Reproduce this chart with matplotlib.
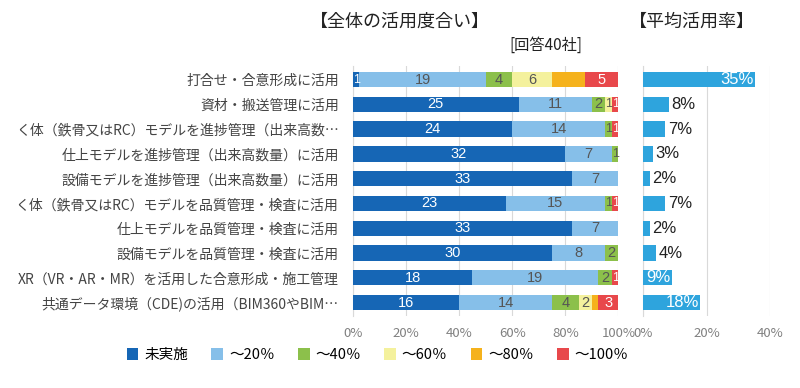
import matplotlib.pyplot as plt
import numpy as np

plt.rcParams['font.family'] = ['Noto Sans CJK JP', 'DejaVu Sans']

categories = [
    "打合せ・合意形成に活用",
    "資材・搬送管理に活用",
    "く体（鉄骨又はRC）モデルを進捗管理（出来高数…",
    "仕上モデルを進捗管理（出来高数量）に活用",
    "設備モデルを進捗管理（出来高数量）に活用",
    "く体（鉄骨又はRC）モデルを品質管理・検査に活用",
    "仕上モデルを品質管理・検査に活用",
    "設備モデルを品質管理・検査に活用",
    "XR（VR・AR・MR）を活用した合意形成・施工管理",
    "共通データ環境（CDE)の活用（BIM360やBIM…",
]
series_names = ["未実施", "～20％", "～40％", "～60％", "～80％", "～100％"]
none_use = [1, 25, 24, 32, 33, 23, 33, 30, 18, 16]
upto20 = [19, 11, 14, 7, 7, 15, 7, 8, 19, 14]
upto40 = [4, 2, 1, 1, 0, 1, 0, 2, 2, 4]
upto60 = [6, 1, 0, 0, 0, 0, 0, 0, 0, 2]
upto80 = [5, 0, 0, 0, 0, 0, 0, 0, 0, 1]
upto100 = [5, 1, 1, 0, 0, 1, 0, 0, 1, 3]
avg_rate = [35, 8, 7, 3, 2, 7, 2, 4, 9, 18]

colors = ["#1666b5", "#86bfe9", "#8cc04b", "#f4f19d", "#f5b21c", "#e8484b"]
text_colors = ["white", "#555555", "#555555", "#555555", "white", "white"]

series = [none_use, upto20, upto40, upto60, upto80, upto100]
total = 40
y = np.arange(len(categories))

fig = plt.figure(figsize=(8, 3.88), dpi=100)
ax = fig.add_axes([0.441, 0.185, 0.332, 0.645])
ax2 = fig.add_axes([0.804, 0.185, 0.159, 0.645])

left = np.zeros(len(categories))
for k, vals in enumerate(series):
    vals = np.array(vals, dtype=float)
    pct = vals / total * 100
    ax.barh(y, pct, left=left, height=0.62, color=colors[k], label=series_names[k], zorder=3)
    for i, v in enumerate(vals):
        if v > 0 and not (k == 4):
            ax.text(left[i] + pct[i] / 2, y[i], str(int(v)), ha="center", va="center",
                    fontsize=10.5 if v > 1 else 9, color=text_colors[k], zorder=4,
                    family=["Liberation Sans", "DejaVu Sans"])
    left += pct

ax.set_xlim(0, 100)
ax.set_ylim(len(categories) - 0.45, -0.55)
ax.set_yticks(y)
ax.set_yticklabels(categories, fontsize=10, color="#444444")
ax.set_xticks(range(0, 101, 20))
ax.set_xticklabels([f"{t}%" for t in range(0, 101, 20)], fontsize=9.5, color="#808080")
ax.xaxis.grid(True, color="#d9d9d9", lw=0.8, zorder=0)
ax.tick_params(length=0, pad=8)
ax.tick_params(axis="y", pad=10)
for s in ["top", "right", "bottom"]:
    ax.spines[s].set_visible(False)
ax.spines["left"].set_color("#d9d9d9")

ax2.barh(y, avg_rate, height=0.62, color="#2ea4dd", zorder=3)
for i, v in enumerate(avg_rate):
    if v >= 9:
        ax2.text(v - 0.3, y[i], f"{v}%", ha="right", va="center", fontsize=12, color="white", zorder=4,
                 family=["Liberation Sans", "DejaVu Sans"])
    else:
        ax2.text(v + 0.8, y[i], f"{v}%", ha="left", va="center", fontsize=12, color="#222222", zorder=4,
                 family=["Liberation Sans", "DejaVu Sans"])
ax2.set_xlim(0, 40)
ax2.set_ylim(len(categories) - 0.45, -0.55)
ax2.set_yticks([])
ax2.set_xticks([0, 20, 40])
ax2.set_xticklabels(["0%", "20%", "40%"], fontsize=9.5, color="#808080")
ax2.xaxis.grid(True, color="#d9d9d9", lw=0.8, zorder=0)
ax2.tick_params(length=0, pad=8)
for s in ["top", "right", "bottom"]:
    ax2.spines[s].set_visible(False)
ax2.spines["left"].set_color("#d9d9d9")

fig.text(0.50, 0.945, "【全体の活用度合い】", ha="center", va="center", fontsize=13, color="#222222")
fig.text(0.682, 0.883, "[回答40社]", ha="center", va="center", fontsize=11, color="#222222")
fig.text(0.865, 0.945, "【平均活用率】", ha="center", va="center", fontsize=13, color="#222222")

handles, labels = ax.get_legend_handles_labels()
fig.legend(handles, labels, loc="center", bbox_to_anchor=(0.472, 0.085), ncol=6, frameon=False,
           fontsize=10.5, handlelength=0.8, handleheight=0.8, columnspacing=1.6, handletextpad=0.4)

fig.savefig("out.png", dpi=100)
